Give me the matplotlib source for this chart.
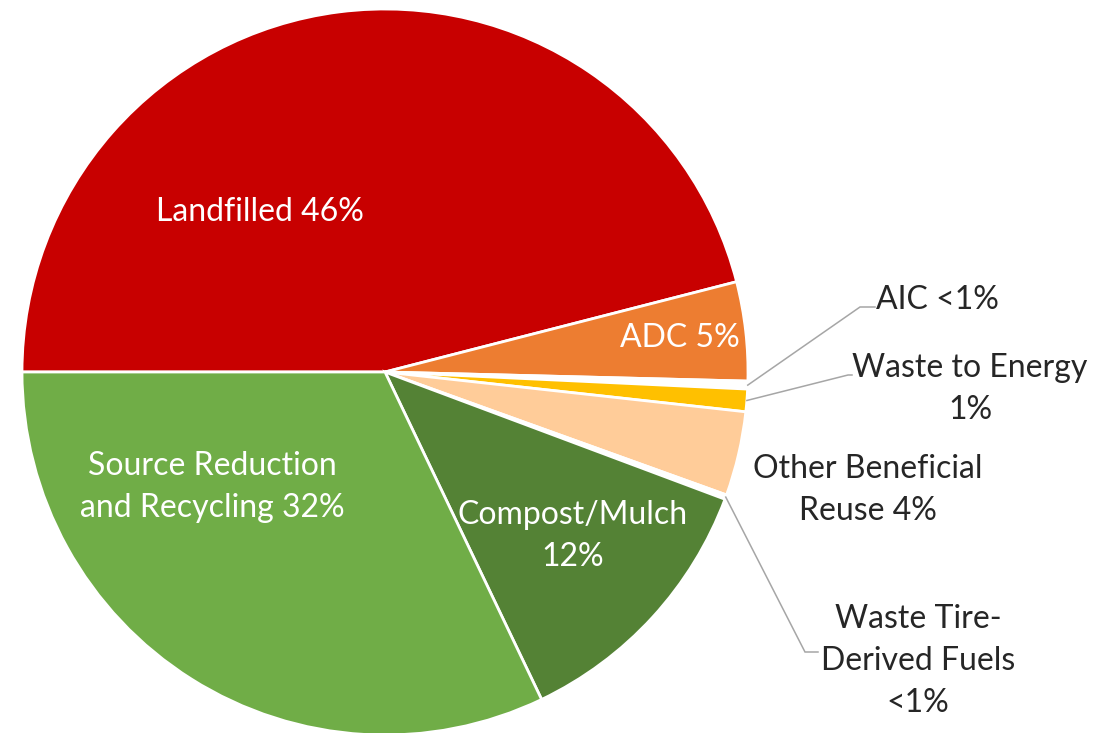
import numpy as np
import matplotlib
matplotlib.use("Agg")
import matplotlib.pyplot as plt

# ---- data ----
categories = ["Landfilled", "ADC", "AIC", "Waste to Energy", "Other Beneficial Reuse",
              "Waste Tire-Derived Fuels", "Compost/Mulch", "Source Reduction and Recycling"]
values = [46.0, 4.4, 0.35, 1.0, 3.75, 0.2, 12.2, 32.1]
labels = ["Landfilled 46%", "ADC 5%", "AIC <1%", "Waste to Energy\n1%", "Other Beneficial\nReuse 4%",
          "Waste Tire-\nDerived Fuels\n<1%", "Compost/Mulch\n12%", "Source Reduction\nand Recycling 32%"]
colors = ["#C80000", "#ED7D31", "#FFFFFF", "#FFC000", "#FFCC99", "#FFFFFF", "#548235", "#70AD47"]

W, H = 1110, 733
fig = plt.figure(figsize=(W / 100, H / 100), dpi=100)
ax = fig.add_axes([0, 0, 1, 1])

cx, cy, R = 385, H - 372, 363
wedges, _ = ax.pie(values, colors=colors, startangle=180, counterclock=False,
                   center=(cx, cy), radius=R, frame=True,
                   wedgeprops=dict(edgecolor="white", linewidth=2.0))
ax.set_xlim(0, W)
ax.set_ylim(0, H)
ax.axis("off")

font = ["Lato", "DejaVu Sans"]
fs = 23
ls = 1.5

# inside labels (white), positions in image pixel coordinates
inside = {0: (260, 212), 1: (680, 338), 6: (573, 536), 7: (212, 487)}
for i, (x, y) in inside.items():
    ax.text(x, H - y, labels[i], color="white", fontsize=fs, family=font,
            ha="center", va="center", linespacing=ls)

# outside labels with leader lines
outside = {
    2: dict(text=(876, 300), ha="left", elbow=(860, 307), end=(875, 307)),
    3: dict(text=(970, 389), ha="center", elbow=(848, 375), end=(852, 375)),
    4: dict(text=(868, 490), ha="center", elbow=None, end=None),
    5: dict(text=(918, 661), ha="center", elbow=(805, 652), end=(818, 652)),
}
for i, o in outside.items():
    x, y = o["text"]
    ax.text(x, H - y, labels[i], color="#262626", fontsize=fs, family=font,
            ha=o["ha"], va="center", linespacing=ls)
    if o["elbow"] is not None:
        w = wedges[i]
        mid = np.deg2rad((w.theta1 + w.theta2) / 2)
        sx, sy = cx + R * np.cos(mid), cy + R * np.sin(mid)
        ex, ey = o["elbow"]
        fx, fy = o["end"]
        ax.plot([sx, ex, fx], [sy, H - ey, H - fy], color="#A6A6A6", lw=1.1,
                solid_joinstyle="miter")

fig.savefig("out.png", dpi=100, facecolor="white")
